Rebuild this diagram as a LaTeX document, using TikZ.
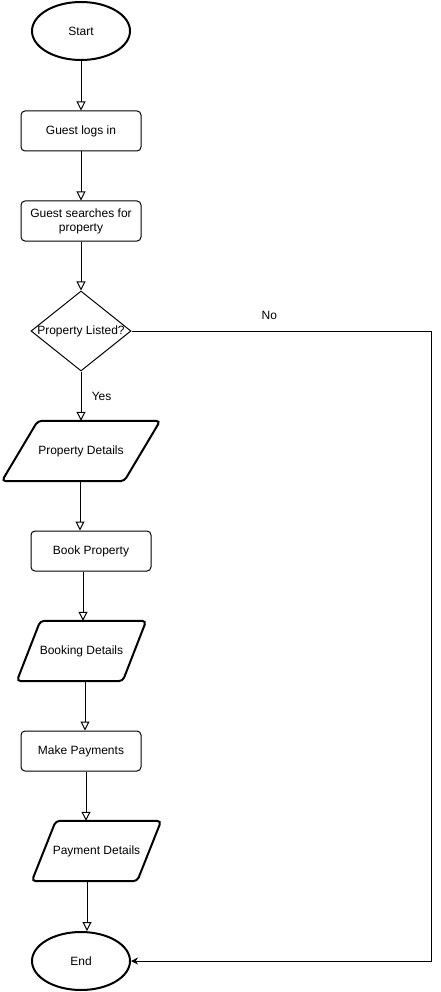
\documentclass[tikz,border=0pt]{standalone}
\usepackage{fontspec}
\setmainfont{Liberation Sans}
\usetikzlibrary{shapes.geometric,arrows.meta,positioning}

\tikzset{
  base/.style={draw, line width=1pt, inner sep=0pt},
  terminal/.style={base, ellipse, line width=2pt, minimum width=98pt, minimum height=58pt},
  process/.style={base, rectangle, rounded corners=4pt, minimum width=120pt, minimum height=40pt, align=center},
  decision/.style={base, diamond, minimum width=100pt, minimum height=80pt},
  inout/.style={rectangle, inner sep=0pt, minimum height=60pt},
  ioline/.style={line width=2pt, rounded corners=4pt},
  flow/.style={-{Triangle[open, width=9pt, length=9pt]}, line width=1pt},
  back/.style={-{Stealth[width=7pt, length=7pt]}, line width=1pt},
}

% slanted frame round an inout node: #1 node name, #2 slant
\newcommand{\ioframe}[2]{%
  \draw[ioline] ([xshift=#2]#1.north west) -- (#1.north east)
    -- ([xshift=-#2]#1.south east) -- (#1.south west) -- cycle;}

\begin{document}
\begin{tikzpicture}[x=1pt, y=-1pt, font=\fontsize{12}{14}\selectfont]
    \useasboundingbox (0,0) rectangle (441,992);

    % Terminals
    \node[terminal] (start) at (81,31) {Start};
    \node[terminal] (end) at (81,961) {End};

    % Steps down the main line
    \node[process] (login) at (81,131) {Guest logs in};
    \node[process] (search) at (81,221) {Guest searches for\\property};
    \node[decision, label=center:{Property Listed?}] (listed) at (81,331) {};
    \node[inout, minimum width=158pt] (propdet) at (81,451) {Property Details};
    \node[process] (book) at (91,551) {Book Property};
    \node[inout, minimum width=129pt] (bookdet) at (81.5,651) {Booking Details};
    \node[process] (pay) at (81,751) {Make Payments};
    \node[inout, minimum width=129pt] (paydet) at (96.5,851) {Payment Details};

    \ioframe{propdet}{36pt}
    \ioframe{bookdet}{23.5pt}
    \ioframe{paydet}{24pt}

    % Corner of the "No" branch
    \coordinate (noturn) at (431,331);

    % Connectors
    \draw[flow] (start) -- (login);
    \draw[flow] (login) -- (search);
    \draw[flow] (search) -- (listed);
    \draw[flow] (listed) -- node[right=7pt] {Yes} (propdet);
    \draw[flow] ([xshift=-1pt]propdet.south) -- ([xshift=-1pt]propdet.south |- book.north);
    \draw[flow] ([xshift=1.5pt]bookdet.north |- book.south) -- ([xshift=1.5pt]bookdet.north);
    \draw[flow] ([xshift=3.5pt]bookdet.south) -- ([xshift=3.5pt]bookdet.south |- pay.north);
    \draw[flow] ([xshift=5pt]pay.south) -- ([xshift=5pt]pay.south |- paydet.north);
    \draw[flow] ([xshift=6pt]end.north |- paydet.south) -- ([xshift=6pt]end.north);
    \draw[back] (listed.east) -- node[pos=0.46, above=8pt] {No} (noturn) |- (end.east);

\end{tikzpicture}
\end{document}
